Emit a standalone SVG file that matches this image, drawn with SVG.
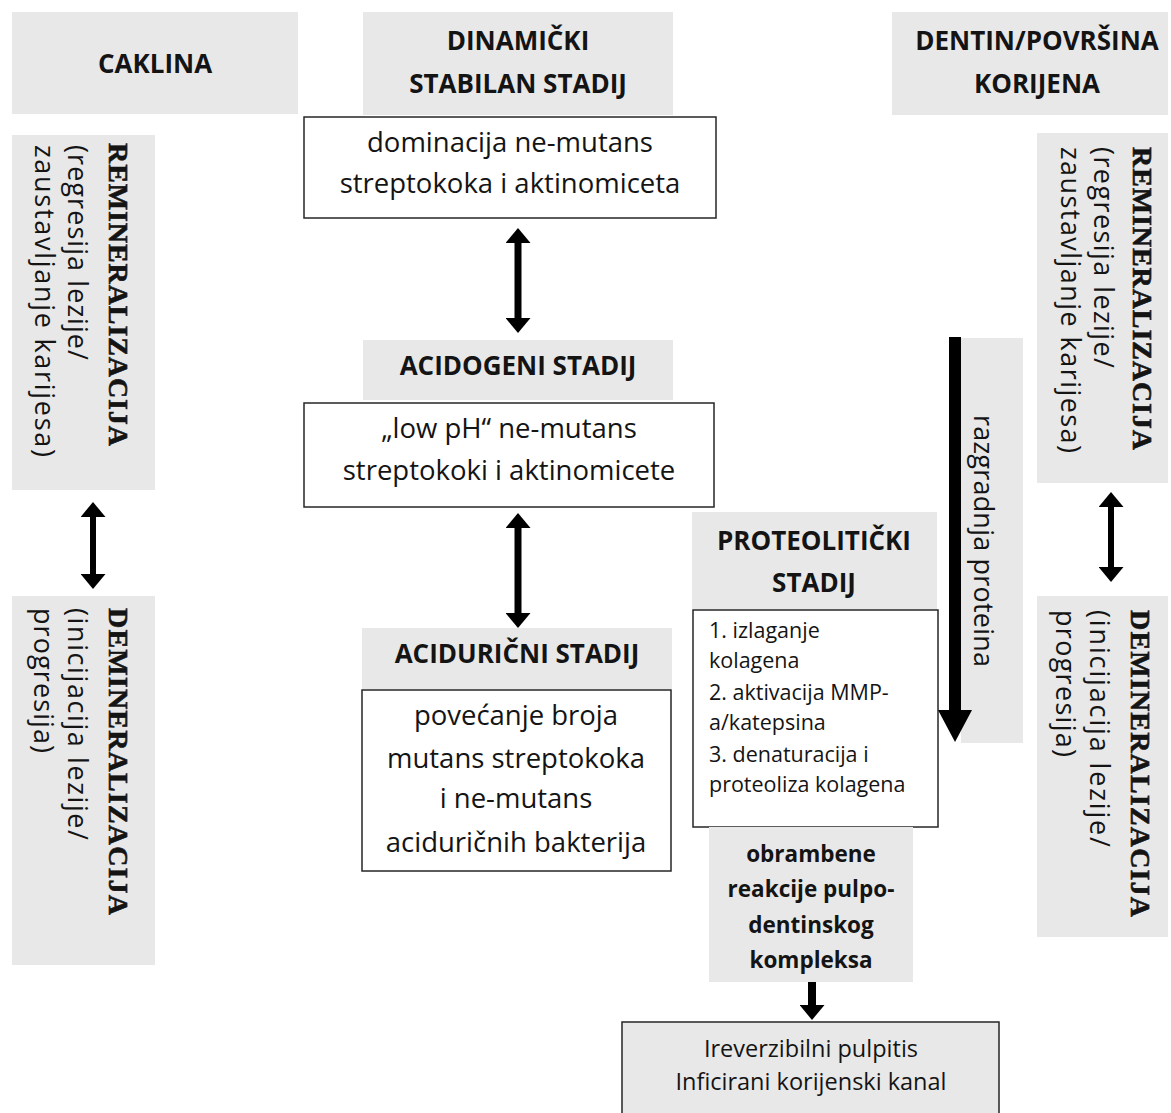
<svg xmlns="http://www.w3.org/2000/svg" width="1171" height="1113" viewBox="0 0 1171 1113">
<style>
.g{fill:#e8e8e8}
.w{fill:#fff;stroke:#262626;stroke-width:1.5}
.f{fill:#e8e8e8;stroke:#262626;stroke-width:1.5}
text{font-family:'Open Sans','Liberation Sans',sans-serif;fill:#141414}
.b{font-weight:700}
.c{text-anchor:middle}
.h{font-size:26px}
.r{font-size:27.5px}
.s{font-size:21.5px}
.o{font-size:22.5px}
.p{font-size:23.5px}
.v{font-size:27px}
.sv{font-family:'Liberation Serif',serif;font-weight:700;font-size:28px;stroke:#141414;stroke-width:0.6}
.con{stroke:#000;fill:none;stroke-linecap:butt}
</style>
<defs>
<marker id="ah" viewBox="0 0 15 25" refX="4" refY="12.5" markerWidth="15" markerHeight="25" markerUnits="userSpaceOnUse" orient="auto-start-reverse"><path d="M0,0 L15,12.5 L0,25 z" fill="#000"/></marker>
<marker id="big" viewBox="0 0 32 34" refX="4" refY="17" markerWidth="32" markerHeight="34" markerUnits="userSpaceOnUse" orient="auto"><path d="M0,0 L32,17 L0,34 z" fill="#000"/></marker>
</defs>

<g id="caklina"><rect class="g" x="12" y="12" width="286" height="102"/><text class="b c h" x="155" y="73">CAKLINA</text></g>
<g id="dinamicki"><rect class="g" x="363" y="12" width="310" height="103"/><text class="b c h" x="518" y="50">DINAMIČKI</text><text class="b c h" x="518" y="93">STABILAN STADIJ</text></g>
<g id="dentin"><rect class="g" x="892" y="12" width="276" height="103"/><text class="b c h" x="1037" y="50">DENTIN/POVRŠINA</text><text class="b c h" x="1037" y="93">KORIJENA</text></g>

<g id="dominacija"><rect class="w" x="304" y="117" width="412" height="101"/><text class="c r" x="510" y="152">dominacija ne-mutans</text><text class="c r" x="510" y="193">streptokoka i aktinomiceta</text></g>
<g id="acidogeni"><rect class="g" x="363" y="340" width="310" height="60"/><text class="b c h" x="518" y="375">ACIDOGENI STADIJ</text></g>
<g id="lowph"><rect class="w" x="304" y="403" width="410" height="104"/><text class="c r" x="509" y="438">„low pH“ ne-mutans</text><text class="c r" x="509" y="480">streptokoki i aktinomicete</text></g>
<g id="aciduricni"><rect class="g" x="362" y="628" width="310" height="61"/><text class="b c h" x="517" y="663">ACIDURIČNI STADIJ</text></g>
<g id="povecanje"><rect class="w" x="362" y="690" width="309" height="181"/><text class="c r" x="516" y="725">povećanje broja</text><text class="c r" x="516" y="768">mutans streptokoka</text><text class="c r" x="516" y="808">i ne-mutans</text><text class="c r" x="516" y="852">aciduričnih bakterija</text></g>

<g id="proteoliticki"><rect class="g" x="692" y="512" width="245" height="97"/><text class="b c h" x="814" y="550">PROTEOLITIČKI</text><text class="b c h" x="814" y="592">STADIJ</text></g>
<g id="lista"><rect class="w" x="693" y="610" width="245" height="217"/>
<text class="s" x="709" y="638">1. izlaganje</text><text class="s" x="709" y="668">kolagena</text><text class="s" x="709" y="700">2. aktivacija MMP-</text><text class="s" x="709" y="730">a/katepsina</text><text class="s" x="709" y="762">3. denaturacija i</text><text class="s" x="709" y="792">proteoliza kolagena</text></g>
<g id="obrambene"><rect class="g" x="709" y="827" width="204" height="155"/><text class="b c o" x="811" y="862">obrambene</text><text class="b c o" x="811" y="897">reakcije pulpo-</text><text class="b c o" x="811" y="933">dentinskog</text><text class="b c o" x="811" y="968">kompleksa</text></g>
<g id="pulpitis"><rect class="f" x="622" y="1022" width="377" height="100"/><text class="c p" x="811" y="1057">Ireverzibilni pulpitis</text><text class="c p" x="811" y="1090">Inficirani korijenski kanal</text></g>
<g id="razgradnja"><rect class="g" x="961" y="338" width="62" height="405"/><text class="v" transform="translate(974,415) rotate(90)" textLength="252">razgradnja proteina</text></g>

<g id="remin-lijevo"><rect class="g" x="12" y="135" width="143" height="355"/>
<text class="sv" transform="translate(109,143) rotate(90)" textLength="303">REMINERALIZACIJA</text>
<text class="v" transform="translate(68,145) rotate(90)" textLength="215">(regresija lezije/</text>
<text class="v" transform="translate(35,145) rotate(90)" textLength="312">zaustavljanje karijesa)</text></g>
<g id="demin-lijevo"><rect class="g" x="12" y="596" width="143" height="369"/>
<text class="sv" transform="translate(109,608) rotate(90)" textLength="307">DEMINERALIZACIJA</text>
<text class="v" transform="translate(68,608) rotate(90)" textLength="232">(inicijacija lezije/</text>
<text class="v" transform="translate(34,608) rotate(90)" textLength="145">progresija)</text></g>
<g id="remin-desno"><rect class="g" x="1037" y="133" width="131" height="350"/>
<text class="sv" transform="translate(1133,147) rotate(90)" textLength="303">REMINERALIZACIJA</text>
<text class="v" transform="translate(1094,147) rotate(90)" textLength="221">(regresija lezije/</text>
<text class="v" transform="translate(1061,147) rotate(90)" textLength="306">zaustavljanje karijesa)</text></g>
<g id="demin-desno"><rect class="g" x="1037" y="596" width="131" height="341"/>
<text class="sv" transform="translate(1131,610) rotate(90)" textLength="307">DEMINERALIZACIJA</text>
<text class="v" transform="translate(1090,610) rotate(90)" textLength="237">(inicijacija lezije/</text>
<text class="v" transform="translate(1056,610) rotate(90)" textLength="147">progresija)</text></g>

<g id="connectors">
<line class="con" x1="518" y1="239" x2="518" y2="322" stroke-width="7" marker-start="url(#ah)" marker-end="url(#ah)"/>
<line class="con" x1="518" y1="524" x2="518" y2="617" stroke-width="7" marker-start="url(#ah)" marker-end="url(#ah)"/>
<line class="con" x1="93" y1="513" x2="93" y2="578" stroke-width="6" marker-start="url(#ah)" marker-end="url(#ah)"/>
<line class="con" x1="1111" y1="503" x2="1111" y2="571" stroke-width="6" marker-start="url(#ah)" marker-end="url(#ah)"/>
<line class="con" x1="955" y1="337" x2="955" y2="714" stroke-width="12" marker-end="url(#big)"/>
<line class="con" x1="812" y1="982" x2="812" y2="1009" stroke-width="8" marker-end="url(#ah)"/>
</g>
</svg>
